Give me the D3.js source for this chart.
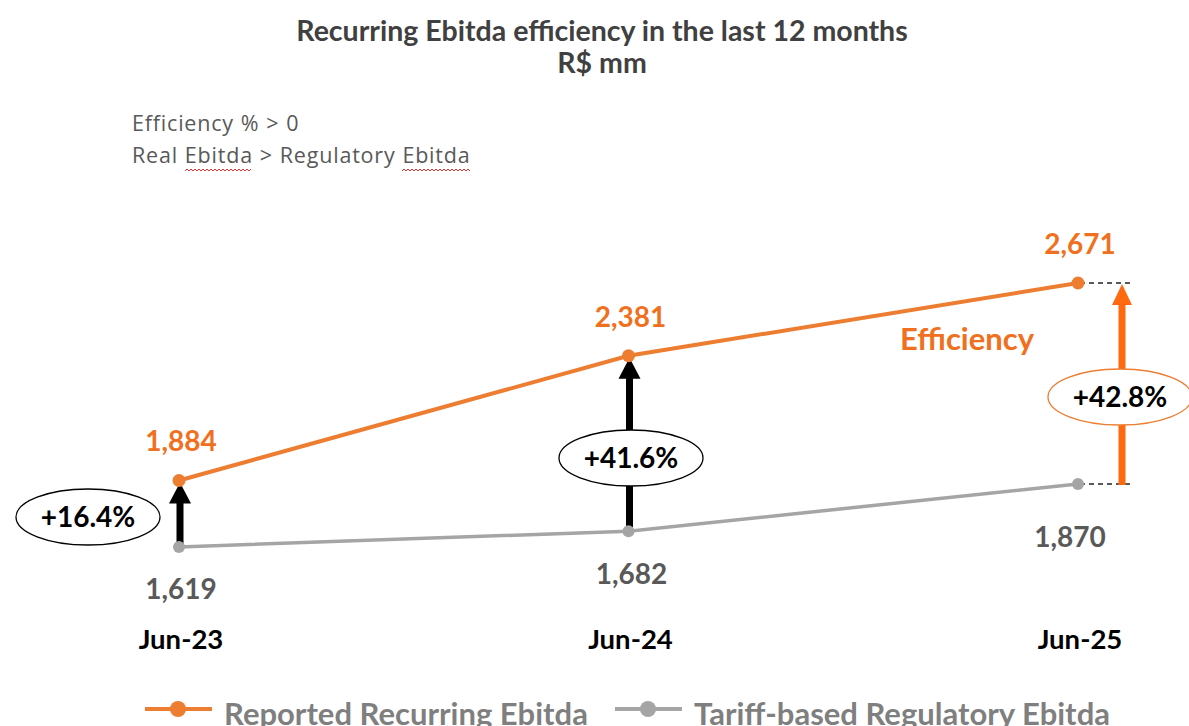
<!DOCTYPE html>
<html>
<head>
<meta charset="utf-8">
<script src="https://cdn.jsdelivr.net/npm/d3@7"></script>
<style>
  html, body { margin: 0; padding: 0; background: #fff; }
  svg { display: block; font-family: Lato, "Open Sans", sans-serif; }
</style>
</head>
<body>
<svg id="chart" width="1189" height="726"></svg>
<script>
// Period categories and the two Ebitda series (R$ mm)
const periods = ["Jun-23", "Jun-24", "Jun-25"];
const reported = [1884, 2381, 2671];
const regulatory = [1619, 1682, 1870];
// Efficiency of reported over regulatory Ebitda, in %
const efficiencyPct = [16.4, 41.6, 42.8];
const seriesNames = ["Reported Recurring Ebitda", "Tariff-based Regulatory Ebitda"];
const notes = ["Efficiency % > 0", "Real Ebitda > Regulatory Ebitda"];

const ORANGE = "#ED7D31";
const ORANGE_TXT = "#F07020";
const GREY = "#A5A5A5";
const GREY_TXT = "#595959";

const svg = d3.select("#chart");

const x = d3.scalePoint().domain(periods).range([179, 1078]);
const y = d3.scaleLinear().domain([1619, 2671]).range([547, 283]);

const fmt = d3.format(",");

// Title (two lines)
["Recurring Ebitda efficiency in the last 12 months", "R$ mm"].forEach((t, i) => {
  svg.append("text")
    .attr("x", 602).attr("y", 41 + i * 32)
    .attr("text-anchor", "middle")
    .attr("fill", "#404040").attr("font-weight", 700).attr("font-size", 28.5)
    .text(t);
});

// Spell-check style squiggle under a word
function squiggle(x0, x1, yy) {
  let d = `M${x0},${yy}`;
  let up = true;
  for (let xx = x0 + 2; xx <= x1; xx += 2) {
    d += ` L${xx},${up ? yy - 2 : yy}`;
    up = !up;
  }
  svg.append("path").attr("d", d).attr("fill", "none")
    .attr("stroke", "#E03030").attr("stroke-width", 1);
}

// Notes in the upper left; "Ebitda" words get a red squiggle
notes.forEach((t, i) => {
  const txt = svg.append("text")
    .attr("x", 132).attr("y", 131 + i * 32)
    .attr("fill", GREY_TXT).attr("font-size", 21.5)
    .attr("letter-spacing", 0.8).attr("word-spacing", 0.5)
    .attr("font-family", "'Open Sans', sans-serif");
  t.split(/(\s+)/).forEach(part => {
    const ts = txt.append("tspan").text(part);
    if (part === "Ebitda") ts.classed("flagged", true);
  });
  txt.selectAll("tspan.flagged").each(function () {
    const b = this.getBBox();
    squiggle(Math.round(b.x), Math.round(b.x + b.width - 1), 171);
  });
});

// Lines
const line = d3.line().x((d, i) => x(periods[i])).y(d => y(d));

svg.append("path").datum(regulatory).attr("d", line)
  .attr("fill", "none").attr("stroke", GREY).attr("stroke-width", 3.5);
svg.append("path").datum(reported).attr("d", line)
  .attr("fill", "none").attr("stroke", ORANGE).attr("stroke-width", 4);

// Dashed guides at the last period
const lastP = periods[periods.length - 1];
[reported[2], regulatory[2]].forEach(v => {
  svg.append("line")
    .attr("x1", x(lastP) + 2).attr("x2", x(lastP) + 56)
    .attr("y1", y(v)).attr("y2", y(v))
    .attr("stroke", "#222").attr("stroke-width", 1.3)
    .attr("stroke-dasharray", "5,4");
});

// Vertical arrows from regulatory to reported
function arrow(xx, yFrom, yTo, color, shaft, headW, headH) {
  svg.append("line")
    .attr("x1", xx).attr("x2", xx)
    .attr("y1", yFrom).attr("y2", yTo + headH - 1)
    .attr("stroke", color).attr("stroke-width", shaft);
  svg.append("path")
    .attr("d", `M${xx},${yTo} L${xx - headW / 2},${yTo + headH} L${xx + headW / 2},${yTo + headH} Z`)
    .attr("fill", color);
}
arrow(x(periods[0]) + 1, y(regulatory[0]), y(reported[0]) + 2, "#000", 7, 22, 21);
arrow(x(periods[1]) + 1, y(regulatory[1]), y(reported[1]) + 2, "#000", 7, 22, 21);
arrow(x(lastP) + 44, y(regulatory[2]) + 1, y(reported[2]) + 1, "#FF6A10", 7, 20, 21);

// Points
svg.selectAll(".pt-reg").data(regulatory).join("circle")
  .attr("cx", (d, i) => x(periods[i])).attr("cy", d => y(d)).attr("r", 6)
  .attr("fill", GREY);
svg.selectAll(".pt-rep").data(reported).join("circle")
  .attr("cx", (d, i) => x(periods[i])).attr("cy", d => y(d)).attr("r", 6.5)
  .attr("fill", ORANGE);

// Value labels
svg.selectAll(".lbl-rep").data(reported).join("text")
  .attr("x", (d, i) => x(periods[i]) + 2)
  .attr("y", d => y(d) - 29)
  .attr("text-anchor", "middle").attr("font-weight", 700).attr("font-size", 28)
  .attr("fill", ORANGE_TXT).text(d => fmt(d));

const regOffsets = [[2, 52], [3, 53], [-8, 63]];
svg.selectAll(".lbl-reg").data(regulatory).join("text")
  .attr("x", (d, i) => x(periods[i]) + regOffsets[i][0])
  .attr("y", (d, i) => y(d) + regOffsets[i][1])
  .attr("text-anchor", "middle").attr("font-weight", 700).attr("font-size", 28)
  .attr("fill", GREY_TXT).text(d => fmt(d));

// Category labels
svg.selectAll(".cat").data(periods).join("text")
  .attr("x", d => x(d) + 2).attr("y", 649)
  .attr("text-anchor", "middle").attr("font-weight", 700).attr("font-size", 27.5)
  .attr("fill", "#000").text(d => d);

// Efficiency bubbles
const bubbles = [
  { cx: 88, cy: 517, stroke: "#000" },
  { cx: 631, cy: 458, stroke: "#000" },
  { cx: 1120, cy: 397, stroke: ORANGE }
];
efficiencyPct.forEach((v, i) => {
  const b = bubbles[i];
  svg.append("ellipse")
    .attr("cx", b.cx).attr("cy", b.cy).attr("rx", 72).attr("ry", 28)
    .attr("fill", "#fff").attr("stroke", b.stroke).attr("stroke-width", 1.3);
  svg.append("text")
    .attr("x", b.cx).attr("y", b.cy + 10)
    .attr("text-anchor", "middle").attr("font-weight", 700).attr("font-size", 28)
    .attr("fill", "#000").text("+" + v.toFixed(1) + "%");
});

// "Efficiency" callout
svg.append("text")
  .attr("x", 967).attr("y", 350)
  .attr("text-anchor", "middle").attr("font-weight", 700).attr("font-size", 31)
  .attr("fill", ORANGE_TXT).text("Efficiency");

// Legend
const legend = [
  { name: seriesNames[0], color: ORANGE, x0: 145 },
  { name: seriesNames[1], color: GREY, x0: 615 }
];
legend.forEach(l => {
  svg.append("line")
    .attr("x1", l.x0).attr("x2", l.x0 + 67).attr("y1", 709).attr("y2", 709)
    .attr("stroke", l.color).attr("stroke-width", 4);
  svg.append("circle").attr("cx", l.x0 + 33).attr("cy", 709).attr("r", 8).attr("fill", l.color);
  svg.append("text")
    .attr("x", l.x0 + 79).attr("y", 725)
    .attr("font-weight", 700).attr("font-size", 31)
    .attr("fill", "#7F7F7F").text(l.name);
});
</script>
</body>
</html>
